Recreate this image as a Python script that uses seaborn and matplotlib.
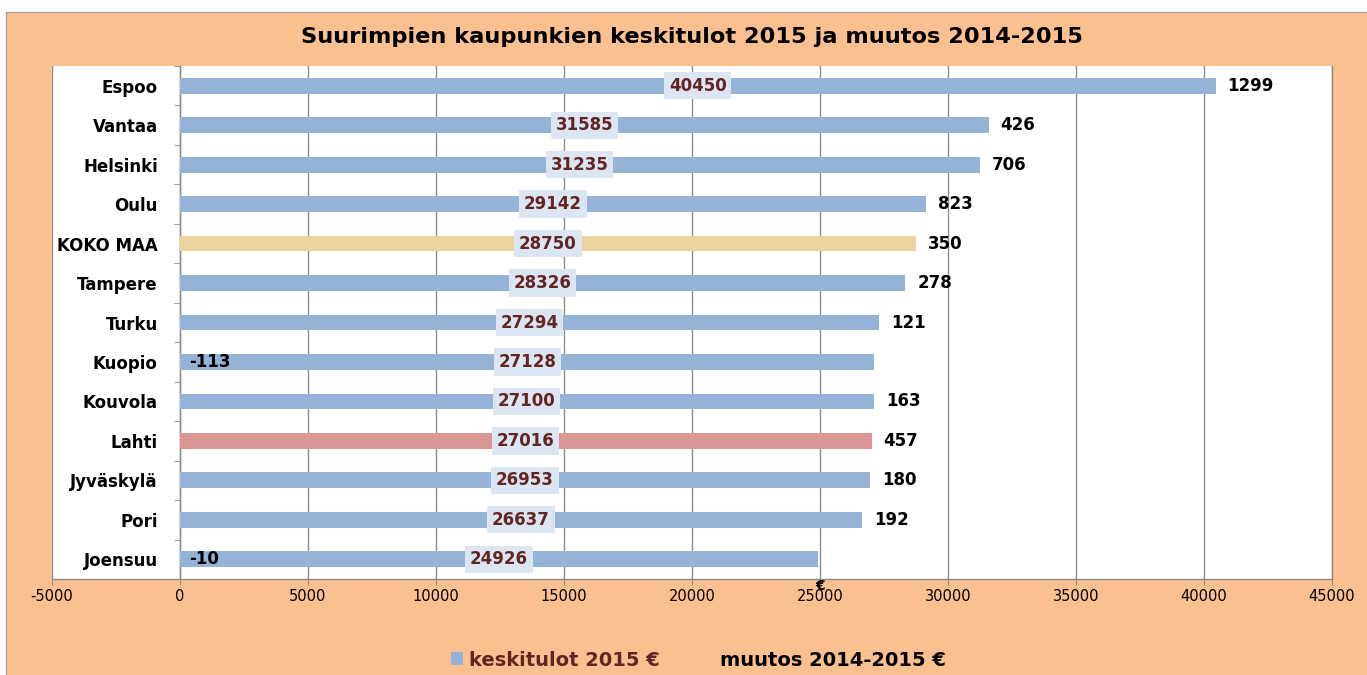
import numpy as np
import pandas as pd
import matplotlib.pyplot as plt
import seaborn as sns
from matplotlib.patches import Rectangle, Patch

# data
cities = ['Espoo', 'Vantaa', 'Helsinki', 'Oulu', 'KOKO MAA', 'Tampere', 'Turku',
          'Kuopio', 'Kouvola', 'Lahti', 'Jyväskylä', 'Pori', 'Joensuu']
income = [40450, 31585, 31235, 29142, 28750, 28326, 27294, 27128, 27100, 27016, 26953, 26637, 24926]
change = [1299, 426, 706, 823, 350, 278, 121, -113, 163, 457, 180, 192, -10]
xticks = list(range(-5000, 45001, 5000))

orange = '#FAC090'
blue = '#95B3D7'
darkred = '#632523'
gridc = '#8C8C8C'

bar_colors = {c: blue for c in cities}
bar_colors['KOKO MAA'] = '#EBD39E'
bar_colors['Lahti'] = '#D99694'

df = pd.DataFrame({'kaupunki': cities, 'keskitulot': income, 'muutos': change})

W, H = 1367, 675
fig = plt.figure(figsize=(W / 100, H / 100), dpi=100, facecolor='white')
fig.patches.append(Rectangle((6 / W, -0.01), 1.0, 1.01 - 12 / H, transform=fig.transFigure,
                             facecolor=orange, edgecolor='#A6A6A6', lw=1, zorder=-10))

ax = fig.add_axes([52 / W, 1 - 579 / H, 1280 / W, 513 / H])
sns.barplot(data=df, x='keskitulot', y='kaupunki', hue='kaupunki', palette=bar_colors,
            legend=False, width=0.4, orient='h', errorbar=None, saturation=1, ax=ax, zorder=3)

ax.set_xlim(-5000, 45000)
ax.set_ylim(12.5, -0.5)
ax.set_xlabel('')
ax.set_ylabel('')
ax.set_facecolor('white')

# grid + spines
ax.set_xticks(xticks)
ax.set_xticklabels([str(t) for t in xticks], fontsize=10.5)
ax.xaxis.grid(True, color=gridc, lw=1)
ax.set_axisbelow(True)
ax.spines['top'].set_visible(False)
ax.spines['left'].set_position(('data', 0))
for s in ['left', 'right', 'bottom']:
    ax.spines[s].set_color(gridc)
    ax.spines[s].set_linewidth(1)
ax.tick_params(axis='x', length=4, color=gridc, pad=3)

# category ticks at boundaries, labels at centres
ax.set_yticks(range(len(cities)))
ax.set_yticklabels(cities, fontsize=12, fontweight='bold')
ax.set_yticks(np.arange(-0.5, len(cities), 1), minor=True)
ax.tick_params(axis='y', which='major', length=0, pad=16)
ax.tick_params(axis='y', which='minor', length=4.5, color=gridc)

# value labels in boxes
for cont, v in zip(ax.containers, income):
    ax.bar_label(cont, labels=[str(v)], label_type='center', color=darkred,
                 fontsize=12, fontweight='bold', zorder=5,
                 bbox=dict(boxstyle='square,pad=0.28', fc='#DCE6F2', ec='none'))

# change labels
for i, (v, d) in enumerate(zip(income, change)):
    x = v + 470 if d > 0 else 350
    ax.text(x, i, str(d), ha='left', va='center', fontsize=12, fontweight='bold',
            color='black', zorder=5)

ax.annotate('€', xy=(25000, 0), xycoords=('data', 'axes fraction'), xytext=(0, 0),
            textcoords='offset points', ha='center', va='top', fontsize=10, fontweight='bold')

fig.text(0.506, 1 - 37 / H, 'Suurimpien kaupunkien keskitulot 2015 ja muutos 2014-2015',
         ha='center', va='center', fontsize=16.2, fontweight='bold')

handles = [Patch(facecolor=blue, edgecolor='none'), Patch(facecolor='none', edgecolor='none')]
leg = fig.legend(handles, ['keskitulot 2015 €', 'muutos 2014-2015 €'], loc='center',
                 bbox_to_anchor=(0.511, 1 - 660 / H), ncol=2, frameon=False,
                 prop={'weight': 'bold', 'size': 14}, handlelength=0.6, handleheight=0.6,
                 handletextpad=0.3, columnspacing=2.2)
leg.get_texts()[0].set_color(darkred)

fig.savefig('out.png', dpi=100, facecolor=fig.get_facecolor())
